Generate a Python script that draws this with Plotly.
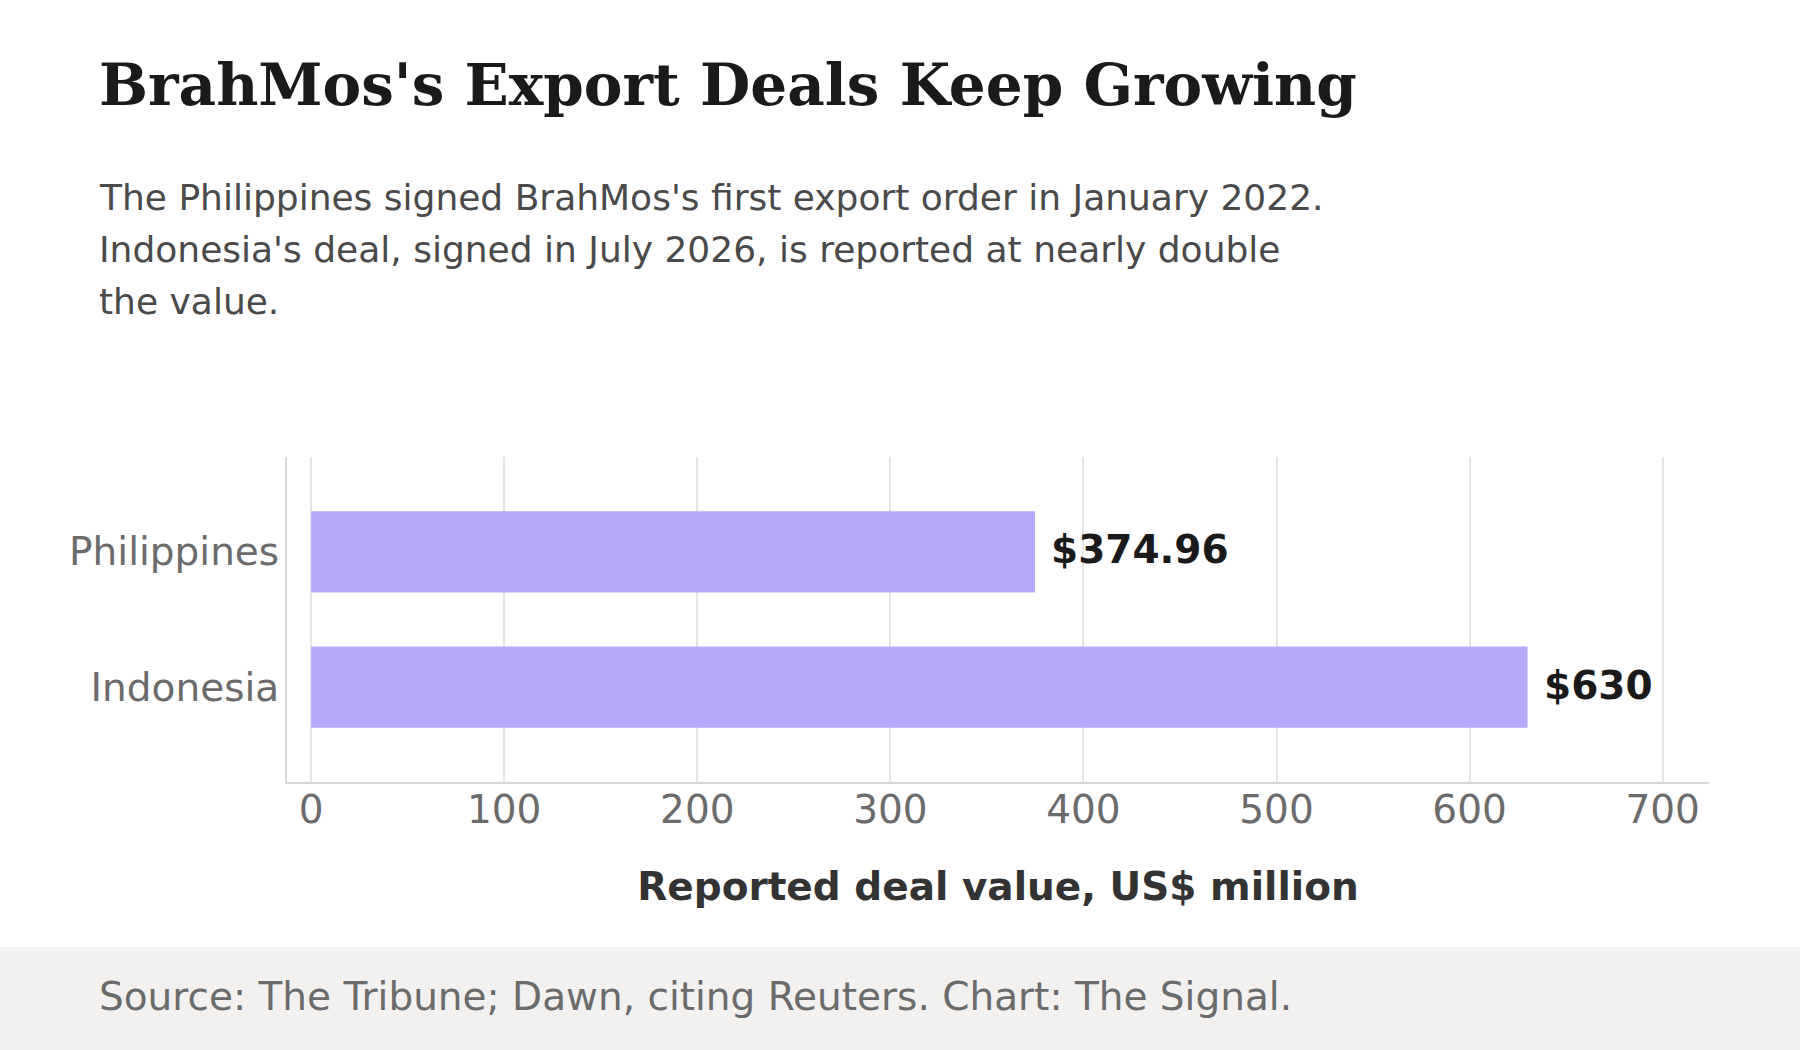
import plotly.graph_objects as go

countries = ["Philippines", "Indonesia"]
values = [374.96, 630]
value_labels = ["$374.96", "$630"]
x_ticks = [0, 100, 200, 300, 400, 500, 600, 700]

title_text = "BrahMos's Export Deals Keep Growing"
subtitle_lines = [
    "The Philippines signed BrahMos's first export order in January 2022.",
    "Indonesia's deal, signed in July 2026, is reported at nearly double",
    "the value.",
]
x_title = "Reported deal value, US$ million"
source_text = "Source: The Tribune; Dawn, citing Reuters. Chart: The Signal."

W, H = 1800, 1050
L, R, T, B = 287, 91, 457, 268
PW, PH = W - L - R, H - T - B


def px_x(px):
    return (px - L) / PW


def px_y(py):
    return (H - B - py) / PH


fig = go.Figure()
fig.add_trace(go.Bar(
    y=countries, x=values, orientation="h",
    marker=dict(color="#b8a9fc", line=dict(width=0)),
    width=0.6, hoverinfo="skip",
))

for c, v, lab in zip(countries, values, value_labels):
    fig.add_annotation(
        x=v, y=c, xref="x", yref="y", text="<b>" + lab + "</b>",
        showarrow=False, xanchor="left", yanchor="middle", xshift=14, yshift=2,
        font=dict(family="DejaVu Sans", size=39, color="#1a1a1a"),
    )

fig.add_shape(type="rect", xref="paper", yref="paper",
              x0=px_x(0), x1=px_x(W), y0=px_y(947), y1=px_y(H),
              fillcolor="#f2f1ef", line=dict(width=0), layer="below")

fig.add_annotation(
    x=px_x(97), y=px_y(85), xref="paper", yref="paper",
    text="<b>" + title_text + "</b>", showarrow=False,
    xanchor="left", yanchor="middle",
    font=dict(family="DejaVu Serif", size=58, color="#1a1a1a"),
)
for i, line in enumerate(subtitle_lines):
    fig.add_annotation(
        x=px_x(97), y=px_y(197 + 52 * i), xref="paper", yref="paper",
        text=line, showarrow=False, xanchor="left", yanchor="middle",
        font=dict(family="DejaVu Sans", size=36, color="#4a4a4a"),
    )
fig.add_annotation(
    x=px_x(97), y=px_y(996), xref="paper", yref="paper",
    text=source_text, showarrow=False, xanchor="left", yanchor="middle",
    font=dict(family="DejaVu Sans", size=39, color="#6b6b6b"),
)

fig.update_layout(
    width=W, height=H,
    margin=dict(l=L, r=R, t=T, b=B, autoexpand=False),
    paper_bgcolor="white", plot_bgcolor="white",
    showlegend=False,
    font=dict(family="DejaVu Sans"),
    xaxis=dict(
        range=[-12.5, 724], tickvals=x_ticks, ticktext=[str(t) for t in x_ticks],
        showgrid=True, gridcolor="#e6e5e1", gridwidth=1.5, zeroline=False,
        showline=True, linecolor="#d9d8d3", linewidth=2,
        ticks="", tickfont=dict(size=39, color="#6b6b6b"), ticklabelstandoff=-8,
        title=dict(text="<b>" + x_title + "</b>", font=dict(size=39, color="#333333"), standoff=42),
    ),
    yaxis=dict(
        range=[1.7, -0.7], categoryorder="array", categoryarray=countries,
        showgrid=False, zeroline=False,
        showline=True, linecolor="#d9d8d3", linewidth=2,
        ticks="", tickfont=dict(size=39, color="#6b6b6b"), ticklabelstandoff=-2,
    ),
)

fig.write_html("out.html")
